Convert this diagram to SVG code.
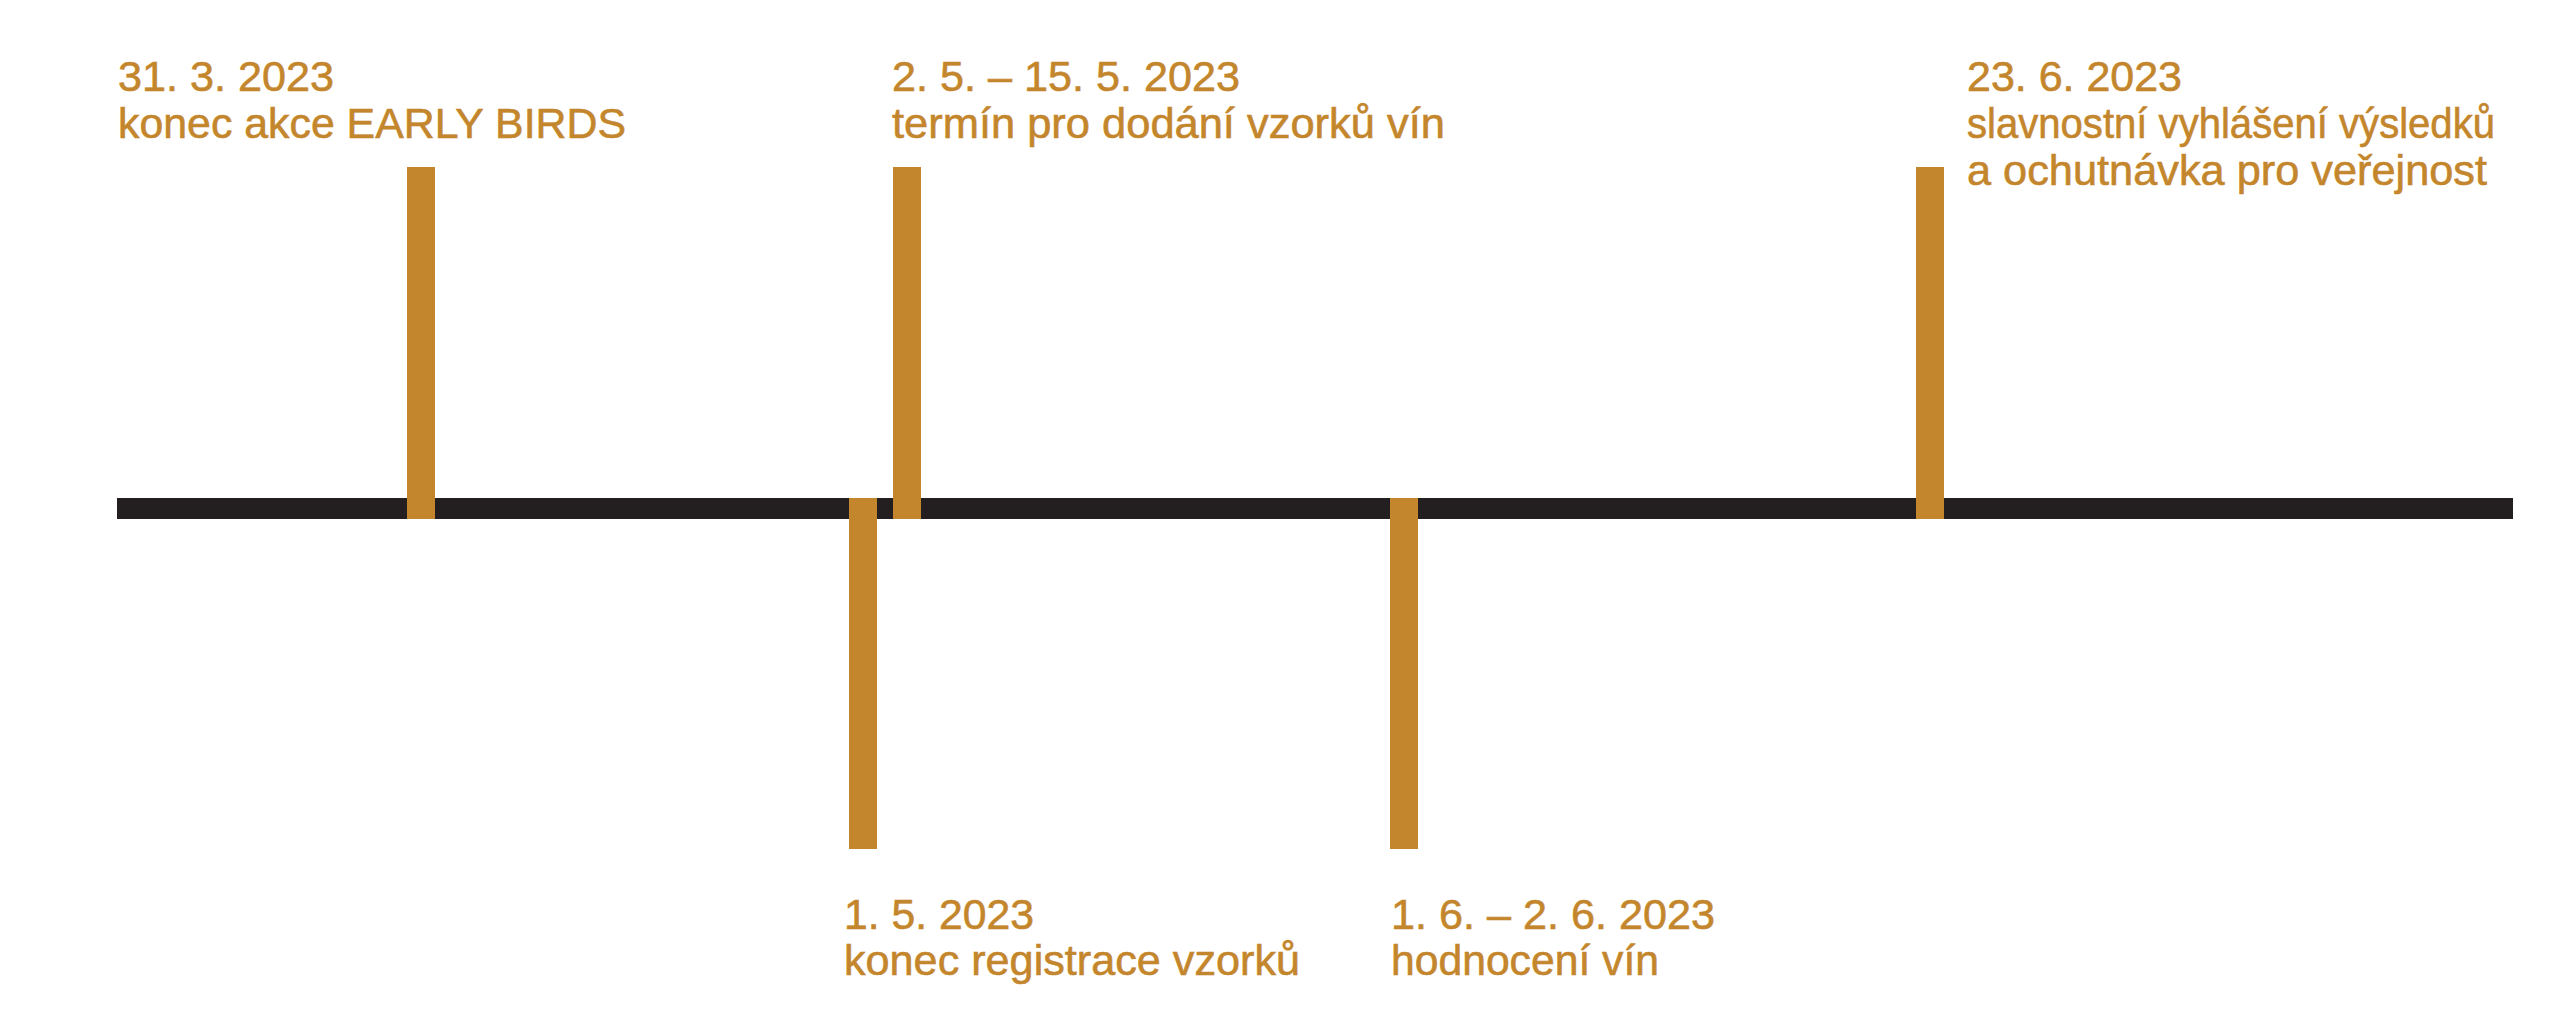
<svg xmlns="http://www.w3.org/2000/svg" width="2560" height="1017" viewBox="0 0 2560 1017">
<style>
.lbl{font-family:"Liberation Sans",Arial,sans-serif;font-size:43px;fill:#C4862C;stroke:#C4862C;stroke-width:0.6px;}
.bar{fill:#C4862C;}
.axis{fill:#231F20;}
</style>
<rect width="2560" height="1017" fill="#FFFFFF"/>
<g id="connectors">
<rect class="axis" x="117" y="498" width="2396" height="21"/>
</g>
<g id="node-early-birds">
<rect class="bar" x="407" y="167" width="28" height="352"/>
<text class="lbl" x="118" y="91" textLength="216" lengthAdjust="spacingAndGlyphs">31. 3. 2023</text>
<text class="lbl" x="118" y="138" textLength="508" lengthAdjust="spacingAndGlyphs">konec akce EARLY BIRDS</text>
</g>
<g id="node-registrace">
<rect class="bar" x="849" y="498" width="28" height="351"/>
<text class="lbl" x="844" y="929" textLength="190" lengthAdjust="spacingAndGlyphs">1. 5. 2023</text>
<text class="lbl" x="844" y="975" textLength="456" lengthAdjust="spacingAndGlyphs">konec registrace vzorků</text>
</g>
<g id="node-dodani">
<rect class="bar" x="893" y="167" width="28" height="352"/>
<text class="lbl" x="892" y="91" textLength="348" lengthAdjust="spacingAndGlyphs">2. 5. – 15. 5. 2023</text>
<text class="lbl" x="892" y="138" textLength="553" lengthAdjust="spacingAndGlyphs">termín pro dodání vzorků vín</text>
</g>
<g id="node-hodnoceni">
<rect class="bar" x="1390" y="498" width="28" height="351"/>
<text class="lbl" x="1391" y="929" textLength="324" lengthAdjust="spacingAndGlyphs">1. 6. – 2. 6. 2023</text>
<text class="lbl" x="1391" y="975" textLength="268" lengthAdjust="spacingAndGlyphs">hodnocení vín</text>
</g>
<g id="node-vyhlaseni">
<rect class="bar" x="1916" y="167" width="28" height="352"/>
<text class="lbl" x="1967" y="91" textLength="215" lengthAdjust="spacingAndGlyphs">23. 6. 2023</text>
<text class="lbl" x="1967" y="138" textLength="528" lengthAdjust="spacingAndGlyphs">slavnostní vyhlášení výsledků</text>
<text class="lbl" x="1967" y="185" textLength="520" lengthAdjust="spacingAndGlyphs">a ochutnávka pro veřejnost</text>
</g>
</svg>
